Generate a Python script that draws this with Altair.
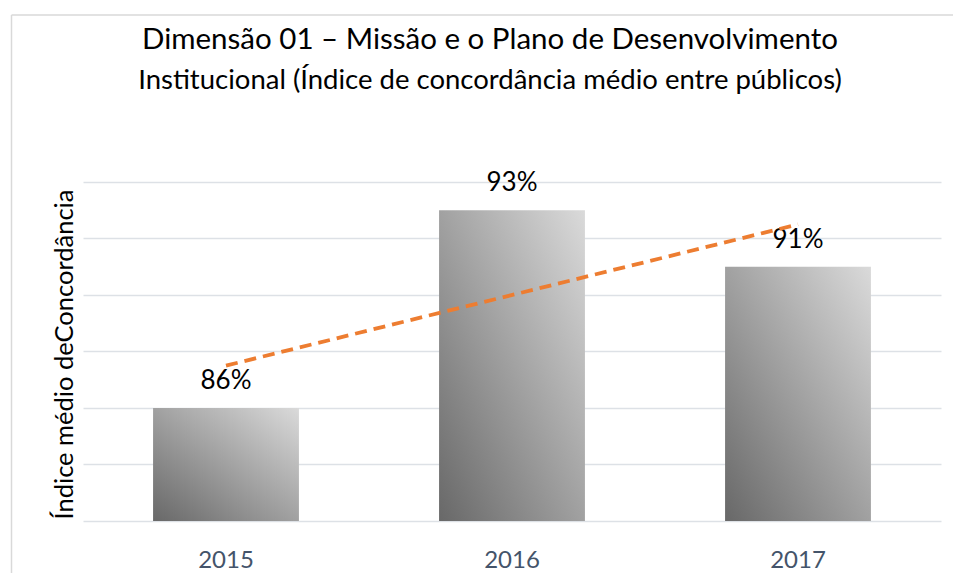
import altair as alt
import pandas as pd

# ---- data ----
years = [2015, 2016, 2017]
values = [0.86, 0.93, 0.91]
y_grid = [0.82, 0.84, 0.86, 0.88, 0.90, 0.92, 0.94]

title_text = "Dimensão 01 – Missão e o Plano de Desenvolvimento"
subtitle_text = "Institucional (Índice de concordância médio entre públicos)"
y_title = "Índice médio deConcordância"

df = pd.DataFrame({"year": years, "value": values})

FONT = "Lato"

gradient = alt.Gradient(
    gradient="linear",
    stops=[
        alt.GradientStop(color="#686868", offset=0),
        alt.GradientStop(color="#dadada", offset=1),
    ],
    x1=0, y1=1, x2=1, y2=0,
)

x_enc = alt.X(
    "year:O",
    scale=alt.Scale(paddingInner=0.49, paddingOuter=0.245),
    axis=alt.Axis(
        title=None, labelAngle=0, labelFont=FONT, labelFontSize=24,
        labelColor="#44546a", labelPadding=27, ticks=False, tickSize=0,
        domain=False, grid=False,
    ),
)
y_enc = alt.Y(
    "value:Q",
    scale=alt.Scale(domain=[0.82, 0.94], nice=False, zero=False),
    axis=alt.Axis(
        values=y_grid, grid=True, gridColor="#dde1e6", gridWidth=1.5,
        labels=False, ticks=False, domain=False,
        title=y_title, titleFont=FONT, titleFontSize=25.5, titleFontWeight="normal",
        titleColor="#000000", titleAngle=270, titleX=-11, titleY=172,
        titleAlign="center", titleBaseline="alphabetic",
    ),
)

base = alt.Chart(df)

bars = base.mark_bar(color=gradient).encode(
    x=x_enc, y=y_enc, y2=alt.datum(0.82)
)

labels = base.mark_text(
    font=FONT, fontSize=26, dy=-19, baseline="alphabetic", color="#000000"
).encode(x=x_enc, y=y_enc, text=alt.Text("value:Q", format=".0%"))

trend = base.transform_regression("year", "value").mark_line(
    color="#ed7d31", strokeWidth=3.8, strokeDash=[12, 7]
).encode(x=x_enc, y=y_enc)

frame_src = alt.Chart(alt.Data(values=[{"k": 0}]))
left_border = frame_src.mark_rule(color="#d9d9d9", strokeWidth=1.5).encode(
    x=alt.value(-71.5), y=alt.value(-167), y2=alt.value(391)
)
top_border = frame_src.mark_rule(color="#d9d9d9", strokeWidth=1.5).encode(
    x=alt.value(-71.5), x2=alt.value(870), y=alt.value(-167)
)

chart = alt.layer(left_border, top_border, bars, labels, trend).properties(
    width=858,
    height=339,
    autosize=alt.AutoSizeParams(type="none"),
    padding={"left": 75, "top": 174, "right": 12, "bottom": 52},
    title=alt.TitleParams(
        text=title_text,
        subtitle=subtitle_text,
        font=FONT, fontSize=29.5, fontWeight="normal", color="#000000",
        subtitleFont=FONT, subtitleFontSize=27.5, subtitleColor="#000000",
        subtitlePadding=11,
        anchor="middle", frame="group", dx=-22, offset=-81,
    ),
).configure(background="white").configure_view(stroke=None)

chart.save("out.html", embed_options={"renderer": "svg", "actions": False})
